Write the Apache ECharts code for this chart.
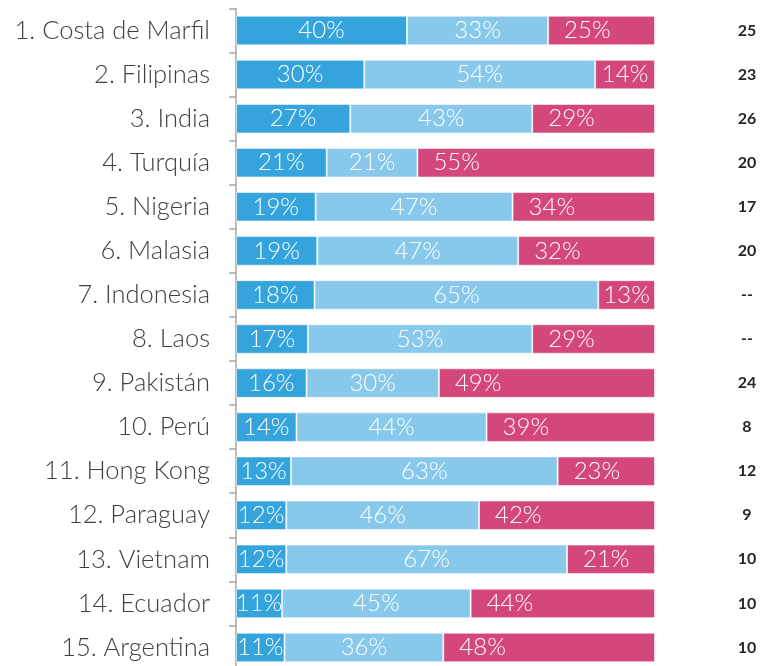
<!DOCTYPE html>
<html>
<head>
<meta charset="utf-8">
<script src="https://cdn.jsdelivr.net/npm/echarts@6/dist/echarts.min.js"></script>
<style>
  html, body { margin: 0; padding: 0; background: #fff; }
  #chart { width: 784px; height: 666px; }
</style>
</head>
<body>
<div id="chart"></div>
<script>
  // datos
  var paises = ['1. Costa de Marfil', '2. Filipinas', '3. India', '4. Turquía', '5. Nigeria',
    '6. Malasia', '7. Indonesia', '8. Laos', '9. Pakistán', '10. Perú', '11. Hong Kong',
    '12. Paraguay', '13. Vietnam', '14. Ecuador', '15. Argentina'];
  var serieA = [40, 30, 27, 21, 19, 19, 18, 17, 16, 14, 13, 12, 12, 11, 11];
  var serieB = [33, 54, 43, 21, 47, 47, 65, 53, 30, 44, 63, 46, 67, 45, 36];
  var serieC = [25, 14, 29, 55, 34, 32, 13, 29, 49, 39, 23, 42, 21, 44, 48];
  var derecha = ['25', '23', '26', '20', '17', '20', '--', '--', '24', '8', '12', '9', '10', '10', '10'];

  var colores = ['#36A4DC', '#88C8EA', '#D4477A'];
  var fuente = 'Lato';

  // cada barra se escala a 100 (suma de las tres partes)
  function norm(arr) {
    return arr.map(function (v, i) {
      return v / (serieA[i] + serieB[i] + serieC[i]) * 100;
    });
  }

  var mychart = echarts.init(document.getElementById('chart'));

  function serie(nombre, raw, color, extra) {
    var s = {
      name: nombre,
      type: 'bar',
      stack: 'total',
      barCategoryGap: '33%',
      data: norm(raw),
      itemStyle: { color: color, borderColor: 'rgba(255,255,255,0.55)', borderWidth: 1 },
      label: {
        show: true,
        position: 'inside',
        color: '#fff',
        fontFamily: fuente,
        fontWeight: 300,
        fontSize: 24,
        formatter: function (p) { return raw[p.dataIndex] + '%'; }
      },
      emphasis: { disabled: true }
    };
    if (extra) s.labelLayout = extra;
    return s;
  }

  var option = {
    animation: false,
    grid: { left: 236, right: 129, top: 8.5, height: 661, outerBoundsMode: 'none' },
    xAxis: { type: 'value', min: 0, max: 100, show: false },
    yAxis: [
      {
        type: 'category',
        data: paises,
        inverse: true,
        axisLine: { show: true, lineStyle: { color: '#A6A6A6', width: 1.5 } },
        axisTick: { show: true, length: 7, lineStyle: { color: '#A6A6A6', width: 1.5 } },
        axisLabel: { margin: 26, color: '#404040', fontFamily: fuente, fontWeight: 300, fontSize: 25.5 }
      },
      {
        type: 'category',
        data: derecha,
        inverse: true,
        position: 'right',
        axisLine: { show: false },
        axisTick: { show: false },
        axisLabel: { margin: 92, align: 'center', color: '#262626', fontFamily: fuente, fontWeight: 'bold', fontSize: 16 }
      }
    ],
    series: [
      serie('A', serieA, colores[0]),
      serie('B', serieB, colores[1]),
      serie('C', serieC, colores[2], function (p) {
        var off = Math.min(16, (p.rect.width - p.labelRect.width) / 2);
        return {
          x: p.rect.x + off,
          y: p.rect.y + p.rect.height / 2,
          align: 'left',
          verticalAlign: 'middle'
        };
      })
    ]
  };

  mychart.setOption(option);
</script>
</body>
</html>
